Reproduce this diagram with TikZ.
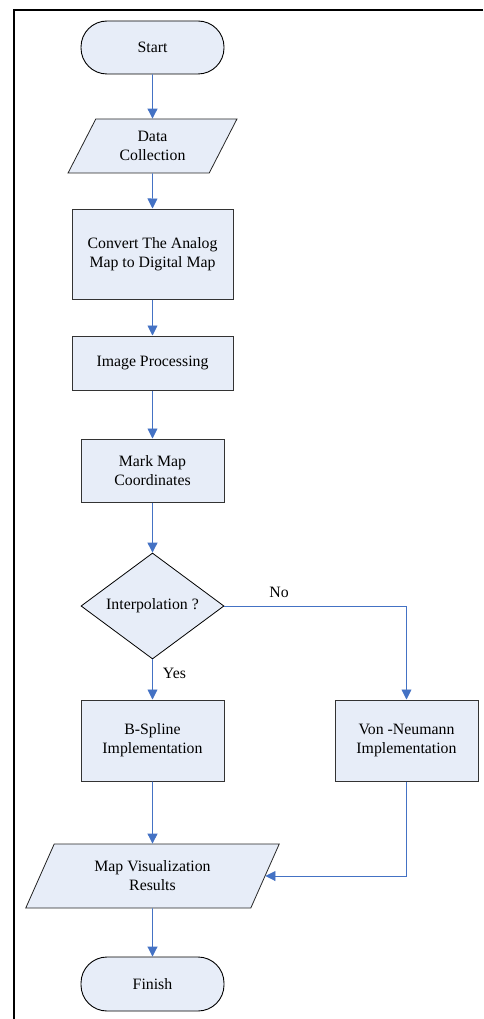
\documentclass[tikz,border=0pt]{standalone}
\usepackage{fontspec}
\setmainfont{Liberation Serif}
\usetikzlibrary{shapes.geometric,arrows.meta}
\definecolor{boxfill}{RGB}{231,237,248}
\definecolor{flowblue}{RGB}{68,114,196}
\begin{document}
\begin{tikzpicture}[x=1pt,y=-1pt,
  font=\fontsize{15.8}{19}\selectfont,
  every node/.style={align=center,inner sep=2pt},
  term/.style={draw=black,fill=boxfill,line width=0.9pt,rounded corners=26pt,minimum width=143pt,minimum height=53pt},
  proc/.style={draw=black!80,fill=boxfill,line width=1pt,minimum width=143pt},
  io/.style={draw=black!85,fill=boxfill,line width=0.8pt,trapezium,trapezium stretches=true,trapezium left angle=63,trapezium right angle=117},
  decision/.style={draw=black,fill=boxfill,line width=0.8pt,diamond,aspect=1.35,inner sep=0pt,minimum width=143pt,minimum height=106pt},
  flow/.style={draw=flowblue,line width=0.9pt,-{Triangle[width=10pt,length=10pt]}}]
 \useasboundingbox (0,0) rectangle (483,1019);
 \draw[line width=2pt] (483,10)--(13.5,10)--(13.5,1019);
 \node[term] (start) at (152.5,47.5) {Start};
 \node[io,minimum width=169pt,minimum height=54pt] (data) at (152.5,146) {Data\\Collection};
 \node[proc,minimum width=161pt,minimum height=90pt] (convert) at (152.5,254) {Convert The Analog\\Map to Digital Map};
 \node[proc,minimum width=161pt,minimum height=54pt] (improc) at (152.5,363) {Image Processing};
 \node[proc,minimum height=63pt] (mark) at (152.5,470.5) {Mark Map\\Coordinates};
 \node[decision] (interp) at (152.5,606) {Interpolation ?};
 \node[proc,minimum height=81pt] (bspline) at (152.5,740.5) {B-Spline\\Implementation};
 \node[proc,minimum height=81pt] (vonneu) at (406.5,740.5) {Von -Neumann\\Implementation};
 \node[io,minimum width=254pt,minimum height=64pt] (viz) at (152.5,876) {Map Visualization\\Results};
 \node[term,minimum height=54pt] (finish) at (152.5,984) {Finish};
 \draw[flow] (start)--(data);
 \draw[flow] (data)--(convert);
 \draw[flow] (convert)--(improc);
 \draw[flow] (improc)--(mark);
 \draw[flow] (mark)--(interp);
 \draw[flow] (interp)--(bspline) node[pos=0.35,right=8pt] {Yes};
 \draw[flow] (interp.east)-|(vonneu.north) node[pos=0.15,above=6pt] {No};
 \draw[flow] (bspline)--(viz);
 \draw[flow] (vonneu.south)|-(viz.east);
 \draw[flow] (viz)--(finish);
\end{tikzpicture}
\end{document}
